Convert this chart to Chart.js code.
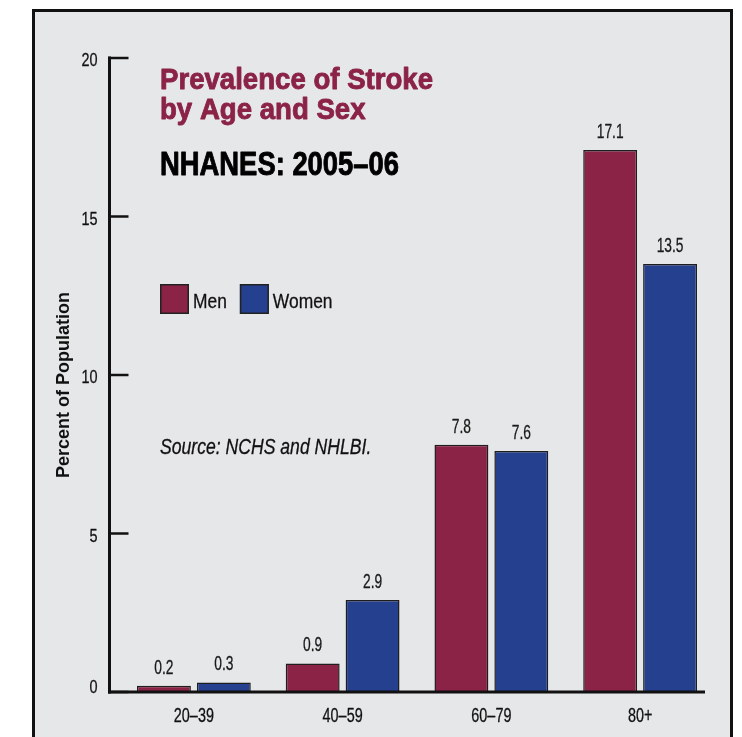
<!DOCTYPE html>
<html>
<head>
<meta charset="utf-8">
<script src="https://cdn.jsdelivr.net/npm/chart.js@4"></script>
<style>
  html, body { margin: 0; padding: 0; background: #ffffff; }
  #frame {
    position: absolute; left: 32px; top: 9px; width: 695px; height: 760px;
    border: 3px solid #111; border-bottom: none; background: #e6e7e9;
  }
  #chart { position: absolute; left: 0; top: 0; }
</style>
</head>
<body>
<div id="frame"></div>
<canvas id="chart" width="742" height="737"></canvas>
<script>
// dados do gráfico
const categories = ['20–39', '40–59', '60–79', '80+'];
const menValues = [0.2, 0.9, 7.8, 17.1];
const womenValues = [0.3, 2.9, 7.6, 13.5];
const yTicks = [0, 5, 10, 15, 20];

const seriesLabels = ['Men', 'Women'];
const menColor = '#8b2346';
const womenColor = '#25408f';

const sans = '"Liberation Sans", Arial, sans-serif';
const ink = '#111111';

// texto "condensado": Liberation Sans comprimida na horizontal
function drawText(ctx, text, x, y, font, sx, align, heavy) {
    ctx.save();
    ctx.font = font;
    ctx.textAlign = align || 'left';
    ctx.textBaseline = 'alphabetic';
    ctx.translate(x, y);
    ctx.scale(sx, 1);
    ctx.fillText(text, 0, 0);
    if (heavy) {
        ctx.strokeStyle = ctx.fillStyle;
        ctx.lineWidth = heavy;
        ctx.lineJoin = 'round';
        ctx.strokeText(text, 0, 0);
    }
    const w = ctx.measureText(text).width * sx;
    ctx.restore();
    return w;
}

// desenha eixos, rótulos, títulos e legenda
const decor = {
    id: 'decor',
    afterDatasetsDraw(chart) {
        const ctx = chart.ctx;
        const area = chart.chartArea;
        const x = chart.scales.x;
        const y = chart.scales.y;
        const axisX = area.left - 10;
        const axisEnd = area.right - 9.5;
        const zero = y.getPixelForValue(0);

        ctx.save();
        ctx.strokeStyle = ink;
        ctx.fillStyle = ink;
        ctx.lineCap = 'butt';

        // eixo y, marcas e rótulos
        ctx.lineWidth = 3;
        ctx.beginPath();
        ctx.moveTo(axisX, y.getPixelForValue(20) - 1.5);
        ctx.lineTo(axisX, zero + 1.5);
        ctx.stroke();
        ctx.lineWidth = 2.5;
        yTicks.forEach(v => {
            const py = y.getPixelForValue(v);
            ctx.beginPath();
            ctx.moveTo(axisX - 1.5, py);
            ctx.lineTo(axisX + 19, py);
            ctx.stroke();
            drawText(ctx, String(v), axisX - 12, py + (v === 0 ? 1 : 8), '19px ' + sans, 0.76, 'right', 0.3);
        });

        // título do eixo y
        ctx.save();
        ctx.translate(69, 385);
        ctx.rotate(-Math.PI / 2);
        ctx.fillStyle = ink;
        drawText(ctx, 'Percent of Population', 0, 0, 'bold 18px ' + sans, 1, 'center');
        ctx.restore();

        // eixo x e rótulos das categorias
        ctx.lineWidth = 3;
        ctx.beginPath();
        ctx.moveTo(axisX - 1.5, zero);
        ctx.lineTo(axisEnd, zero);
        ctx.stroke();
        categories.forEach((c, i) => {
            drawText(ctx, c, x.getPixelForTick(i), zero + 30, '20px ' + sans, 0.72, 'center', 0.3);
        });

        // valores acima das barras
        ctx.fillStyle = '#1a1a1a';
        chart.data.datasets.forEach((ds, i) => {
            chart.getDatasetMeta(i).data.forEach((bar, j) => {
                drawText(ctx, ds.data[j].toFixed(1), bar.x, bar.y - 12, '20px ' + sans, 0.69, 'center', 0.3);
            });
        });

        // títulos
        ctx.fillStyle = menColor;
        drawText(ctx, 'Prevalence of Stroke', 160, 89, 'bold 30px ' + sans, 0.92, 'left', 0.9);
        drawText(ctx, 'by Age and Sex', 160, 119, 'bold 30px ' + sans, 0.92, 'left', 0.9);
        ctx.fillStyle = '#000';
        drawText(ctx, 'NHANES: 2005–06', 160, 175, 'bold 33px ' + sans, 0.83, 'left', 0.9);

        // legenda
        let lx = 160;
        chart.data.datasets.forEach(ds => {
            ctx.fillStyle = ds.backgroundColor;
            ctx.fillRect(lx, 284, 29, 30);
            ctx.lineWidth = 1.5;
            ctx.strokeStyle = '#222';
            ctx.strokeRect(lx + 0.75, 284.75, 27.5, 28.5);
            ctx.fillStyle = ink;
            const w = drawText(ctx, ds.label, lx + 33, 308, '20px ' + sans, 0.87, 'left', 0.3);
            lx += 33 + w + 13;
        });

        // fonte
        ctx.fillStyle = ink;
        drawText(ctx, 'Source: NCHS and NHLBI.', 160, 454, 'italic 22px ' + sans, 0.80, 'left', 0.3);
        ctx.restore();
    }
};

const ctx = document.getElementById('chart').getContext('2d');
new Chart(ctx, {
    type: 'bar',
    data: {
        labels: categories,
        datasets: [
            { label: seriesLabels[0], data: menValues, backgroundColor: menColor },
            { label: seriesLabels[1], data: womenValues, backgroundColor: womenColor }
        ]
    },
    options: {
        responsive: false,
        animation: false,
        layout: { padding: { left: 40, right: 27.5, top: 58, bottom: 0 } },
        datasets: {
            bar: {
                barPercentage: 0.9,
                categoryPercentage: 120 / 149,
                borderColor: '#1e1e1e',
                borderWidth: 1.5,
                borderSkipped: 'start'
            }
        },
        plugins: {
            legend: { display: false },
            tooltip: { enabled: false }
        },
        scales: {
            x: {
                grid: { display: false, drawTicks: false },
                border: { display: false },
                ticks: { display: false },
                afterFit(scale) { scale.height = 45; }
            },
            y: {
                min: 0,
                max: 20,
                afterBuildTicks(scale) { scale.ticks = yTicks.map(v => ({ value: v })); },
                grid: { display: false, drawTicks: false },
                border: { display: false },
                ticks: { display: false },
                afterFit(scale) { scale.width = 79.5; }
            }
        }
    },
    plugins: [decor]
});
</script>
</body>
</html>
